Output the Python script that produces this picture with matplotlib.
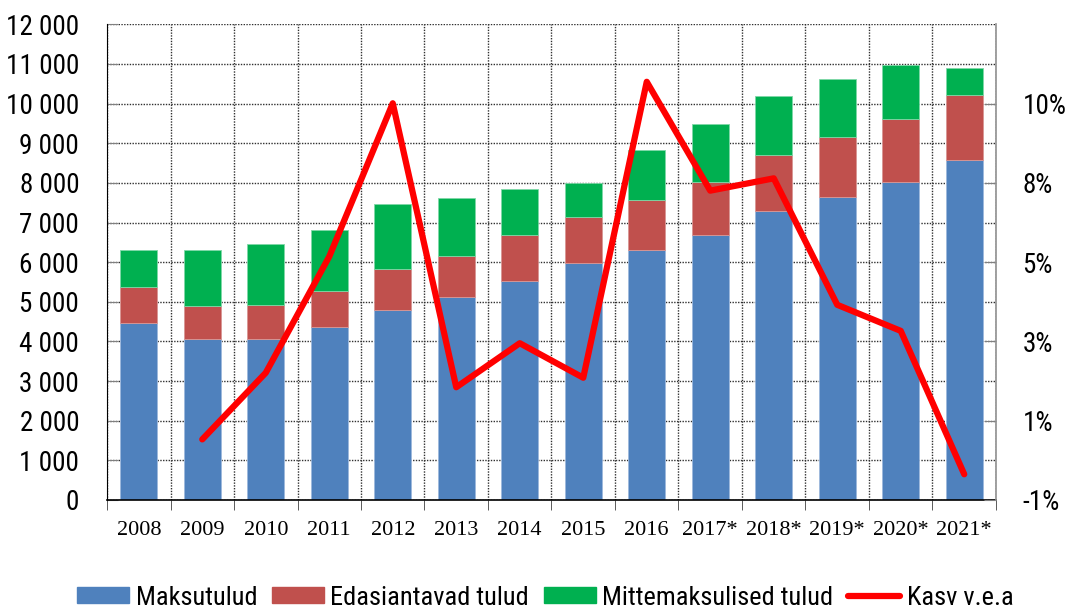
import numpy as np
import matplotlib.pyplot as plt
from matplotlib.lines import Line2D
from matplotlib.patches import Patch

years = ["2008", "2009", "2010", "2011", "2012", "2013", "2014",
         "2015", "2016", "2017*", "2018*", "2019*", "2020*", "2021*"]
maksutulud = [4470, 4070, 4055, 4355, 4785, 5115, 5535,
              5970, 6310, 6680, 7290, 7655, 8030, 8580]
edasiantavad = [900, 825, 858, 916, 1034, 1042, 1144,
                1178, 1270, 1354, 1404, 1498, 1573, 1648]
mittemaksulised = [934, 1421, 1539, 1539, 1648, 1455, 1161,
                   849, 1245, 1446, 1506, 1463, 1371, 664]
# growth, starts from 2009
kasv = [0.42, 2.31, 5.61, 9.96, 1.90, 3.15, 2.17,
        10.57, 7.48, 7.83, 4.24, 3.50, -0.57]
left_ticks = [0, 1000, 2000, 3000, 4000, 5000, 6000,
              7000, 8000, 9000, 10000, 11000, 12000]
right_labels = ["-1%", "1%", "3%", "5%", "8%", "10%"]

blue = "#4F81BD"
red = "#C0504D"
green = "#00B050"
line_red = "#FF0000"

narrow = ["Roboto Condensed", "DejaVu Sans"]
serif = ["Liberation Serif", "DejaVu Serif"]

fig = plt.figure(figsize=(10.69, 6.09), dpi=100)
ax = fig.add_axes([0.1001, 0.179, 0.8316, 0.781])

x = np.arange(len(years))
w = 0.58
m = np.array(maksutulud)
e = np.array(edasiantavad)
g = np.array(mittemaksulised)
ax.bar(x, m, w, color=blue, edgecolor="#9db8dc", linewidth=0.6)
ax.bar(x, e, w, bottom=m, color=red, edgecolor="#d99694", linewidth=0.6)
ax.bar(x, g, w, bottom=m + e, color=green, edgecolor="#7fd8a7", linewidth=0.6)

ax.set_xlim(-0.5, len(years) - 0.5)
ax.set_ylim(0, 12000)
ax.set_yticks(left_ticks)
ax.set_yticklabels([f"{v:,}".replace(",", " ") for v in left_ticks],
                   family=narrow, fontsize=19.5)
ax.tick_params(axis="y", direction="in", length=8, color="#808080", pad=20)

ax.set_xticks(x)
ax.set_xticklabels(years, family=serif, fontsize=16)
ax.set_xticks(np.arange(-0.5, len(years)), minor=True)
ax.tick_params(axis="x", which="major", length=0, pad=15)
ax.tick_params(axis="x", which="minor", direction="out", length=7, color="#404040")

ax.set_axisbelow(True)
ax.grid(axis="y", which="major", color="#303030", linestyle=(0, (1, 1)), linewidth=1)
ax.grid(axis="x", which="minor", color="#303030", linestyle=(0, (1, 1)), linewidth=1)
ax.grid(axis="x", which="major", visible=False)

ax.spines["top"].set_visible(False)
ax.spines["right"].set_visible(False)
ax.spines["left"].set_color("black")
ax.spines["bottom"].set_color("black")
ax.spines["bottom"].set_linewidth(1.2)

ax2 = ax.twinx()
lo, step = -1.3, 2.25
ax2.set_ylim(lo, lo + 6 * step)
ax2.set_yticks([lo + step * k for k in range(len(right_labels))])
ax2.set_yticklabels(right_labels, family=narrow, fontsize=19.5)
ax2.tick_params(axis="y", direction="in", length=9, color="#808080", pad=19)
ax2.plot(x[1:], kasv, color=line_red, linewidth=4.5,
         solid_joinstyle="round", solid_capstyle="round", zorder=5)
for s in ["top", "left", "bottom"]:
    ax2.spines[s].set_visible(False)
ax2.spines["right"].set_color("#909090")
ax2.spines["right"].set_linewidth(1.2)

handles = [Patch(color=blue), Patch(color=red), Patch(color=green),
           Line2D([0], [0], color=line_red, linewidth=4.5, solid_capstyle="round")]
labels = ["Maksutulud", "Edasiantavad tulud", "Mittemaksulised tulud", "Kasv v.e.a"]
fig.legend(handles, labels, loc="lower center", bbox_to_anchor=(0.510, -0.040),
           ncol=4, frameon=False, prop={"family": narrow, "size": 19},
           handlelength=1.97, handleheight=0.57, handletextpad=0.25,
           columnspacing=0.55)

fig.savefig("out.png", dpi=100)
